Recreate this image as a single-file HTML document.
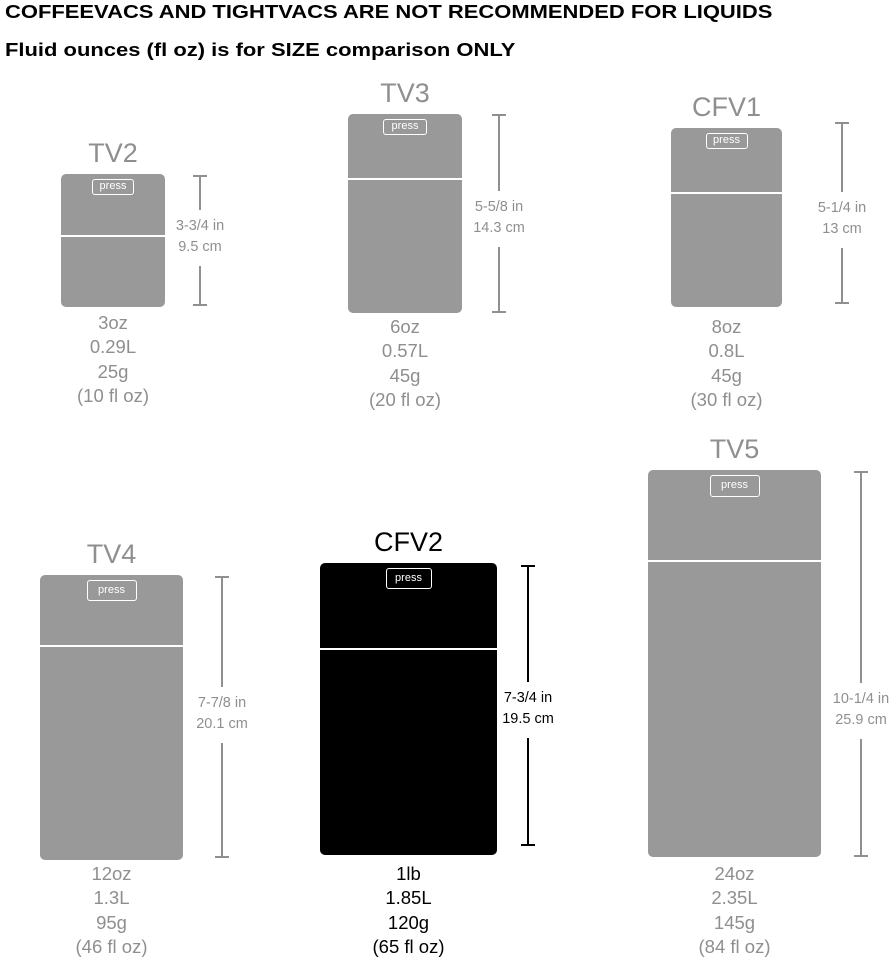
<!DOCTYPE html>
<html><head><meta charset="utf-8">
<style>
body{margin:0;width:894px;height:960px;background:#fff;position:relative;overflow:hidden;font-family:"Liberation Sans",sans-serif}
.a{position:absolute}
.t{font-weight:bold;font-size:18px;color:#000;left:5px;white-space:nowrap;transform:scaleX(1.22);transform-origin:0 0}
.lbl{font-size:27px;text-align:center;width:200px;line-height:30px}
.box{border-radius:5px}
.div{height:2px;background:#fff}
.press{border:1.5px solid #fff;border-radius:3px;color:#fff;font-size:11px;text-align:center;box-sizing:border-box}
.dl{width:2px}
.cap{width:14px;height:2px}
.dt{font-size:14.5px;text-align:center;width:90px;line-height:21px}
.info{font-size:18.5px;text-align:center;width:160px;line-height:24.3px}
</style></head><body>
<div class="a t" style="top:2px">COFFEEVACS AND TIGHTVACS ARE NOT RECOMMENDED FOR LIQUIDS</div>
<div class="a t" style="top:40px">Fluid ounces (fl oz) is for SIZE comparison ONLY</div>
<div id="root"></div>
<script>
const names=["TV2","TV3","CFV1","TV4","CFV2","TV5"];
const heightsIn=["3-3/4 in","5-5/8 in","5-1/4 in","7-7/8 in","7-3/4 in","10-1/4 in"];
const heightsCm=["9.5 cm","14.3 cm","13 cm","20.1 cm","19.5 cm","25.9 cm"];
const weights=["3oz","6oz","8oz","12oz","1lb","24oz"];
const liters=["0.29L","0.57L","0.8L","1.3L","1.85L","2.35L"];
const grams=["25g","45g","45g","95g","120g","145g"];
const floz=["(10 fl oz)","(20 fl oz)","(30 fl oz)","(46 fl oz)","(65 fl oz)","(84 fl oz)"];
// layout geometry (pixels)
const G=[
 {x:61,y:174,w:104,h:133,dv:61,pw:42,ph:16,dx:200,dy1:175,dy2:306,dty:216,iy:311,c:"#999",tc:"#8f8f8f"},
 {x:348,y:114,w:114,h:199,dv:64,pw:44,ph:16,dx:499,dy1:114,dy2:313,dty:197,iy:315,c:"#999",tc:"#8f8f8f"},
 {x:671,y:128,w:111,h:179,dv:64,pw:42,ph:16,dx:842,dy1:122,dy2:304,dty:198,iy:315,c:"#999",tc:"#8f8f8f"},
 {x:40,y:575,w:143,h:285,dv:70,pw:50,ph:21,dx:222,dy1:576,dy2:858,dty:693,iy:862,c:"#999",tc:"#8f8f8f"},
 {x:320,y:563,w:177,h:292,dv:85,pw:46,ph:21,dx:528,dy1:565,dy2:846,dty:688,iy:862,c:"#000",tc:"#000"},
 {x:648,y:470,w:173,h:387,dv:90,pw:50,ph:22,dx:861,dy1:471,dy2:857,dty:689,iy:862,c:"#999",tc:"#8f8f8f"}
];
const root=document.getElementById('root');
function mk(cls,st,txt){const e=document.createElement('div');e.className='a '+cls;e.setAttribute('style',st);if(txt!=null)e.textContent=txt;root.appendChild(e);return e;}
names.forEach((n,i)=>{
 const g=G[i],cx=g.x+g.w/2;
 let e=mk('lbl',`left:${cx-100}px;top:${g.y-36}px;color:${g.tc}`,n);
 
 
 e=mk('box',`left:${g.x}px;top:${g.y}px;width:${g.w}px;height:${g.h}px;background:${g.c}`);
 
 
 e=mk('div',`left:${g.x}px;top:${g.y+g.dv}px;width:${g.w}px`);
 
 
 e=mk('press',`left:${cx-g.pw/2}px;top:${g.y+5}px;width:${g.pw}px;height:${g.ph}px;line-height:${g.ph-3}px`,'press');
 
 
 e=mk('dl',`left:${g.dx-1}px;top:${g.dy1}px;height:${g.dty-6-g.dy1}px;background:${g.tc}`);
 
 
 e=mk('dl',`left:${g.dx-1}px;top:${g.dty+50}px;height:${g.dy2-g.dty-50}px;background:${g.tc}`);
 
 
 mk('cap',`left:${g.dx-7}px;top:${g.dy1}px;background:${g.tc}`);
 mk('cap',`left:${g.dx-7}px;top:${g.dy2-2}px;background:${g.tc}`);
 e=mk('dt',`left:${g.dx-45}px;top:${g.dty}px;color:${g.tc}`);
 e.innerHTML=heightsIn[i]+'<br>'+heightsCm[i];
 
 
 e=mk('info',`left:${cx-80}px;top:${g.iy}px;color:${g.tc}`);
 e.innerHTML=[weights[i],liters[i],grams[i],floz[i]].join('<br>');
 
 
});
</script>
</body></html>
